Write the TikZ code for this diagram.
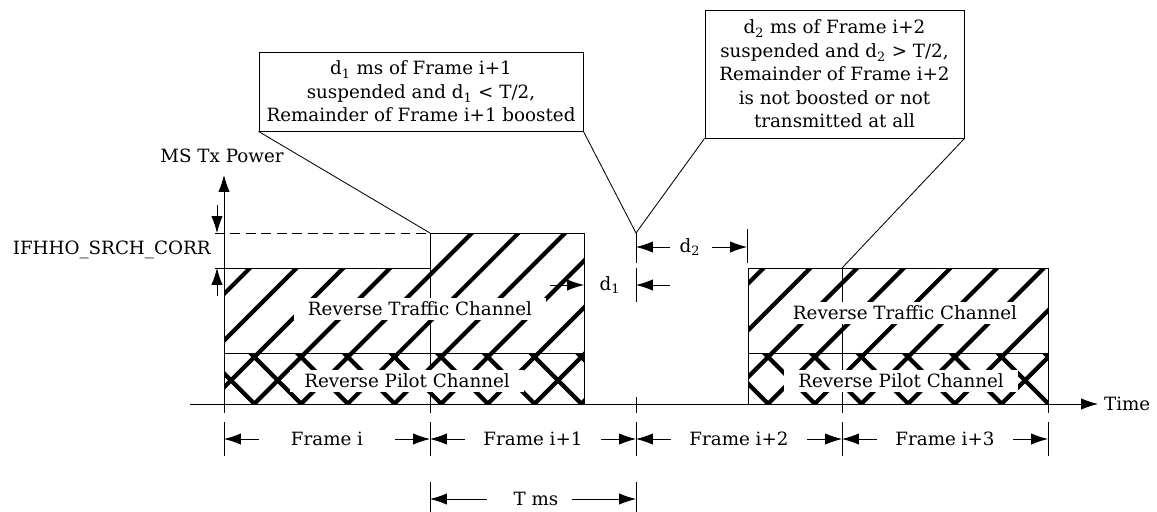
\documentclass[tikz,border=0pt]{standalone}
\usepackage{fontspec}
\setmainfont{DejaVu Serif}
\usetikzlibrary{arrows.meta, positioning}

\begin{document}
\begin{tikzpicture}[x=0.025cm, y=-0.025cm, >={Latex[length=12pt, width=8pt]},
                    line width=0.6pt, font=\fontsize{13}{16.7}\selectfont,
                    hatch/.style={line width=3pt},
                    chlabel/.style={fill=white, inner xsep=10pt, inner ysep=2.5pt},
                    callout/.style={draw, align=center, inner sep=0pt}]
    \useasboundingbox (0,0) rectangle (1157,512);

    % Hatching of traffic and pilot channels
    \begin{scope}
        \clip (224,404) -- (224,268) -- (430,268) -- (430,233) -- (584,233) -- (584,404) -- cycle
              (748,268) rectangle (1048,404);
        \foreach \k in {-2,...,21}
            \draw[hatch] ({518+46.7*\k-420},420) -- ({518+46.7*\k-180},180);
    \end{scope}
    \begin{scope}
        \clip (224,353) rectangle (584,404) (748,353) rectangle (1048,404);
        \foreach \k in {0,...,20}
            \draw[hatch] ({-196+46.7*\k+300},300) -- ({-196+46.7*\k+420},420);
    \end{scope}

    % Axes
    \coordinate (origin) at (224,413);
    \coordinate (ytop) at (224,175);
    \coordinate (xstart) at (190,404);
    \node[right, inner sep=4pt] (time) at (1098,404) {Time};
    \node (power) at (222,156) {MS Tx Power};
    \draw[->] (origin) -- (ytop);
    \draw[->] (xstart) -- (time.west);

    % Frame i and Frame i+1 (boosted)
    \coordinate (p1) at (430,233);
    \coordinate (b1) at (430,413);
    \draw (215,268) -- (430,268);
    \draw[dash pattern=on 7pt off 4pt] (215,233) -- (p1);
    \draw (p1) -- (584,233) -- (584,404);
    \draw (p1) -- (b1);
    \draw (224,353) -- (584,353);

    % Frame i+2 and Frame i+3
    \coordinate (p3) at (842,268);
    \coordinate (b3) at (842,413);
    \draw (748,404) -- (748,268) -- (1048,268) -- (1048,413);
    \draw (p3) -- (b3);
    \draw (748,353) -- (1048,353);

    % Channel labels
    \node[chlabel] (traffic1) at (420,309) {Reverse Traffic Channel};
    \node[chlabel] (pilot1) at (407,381) {Reverse Pilot Channel};
    \node[chlabel] (traffic2) at (905,313) {Reverse Traffic Channel};
    \node[chlabel] (pilot2) at (901,381) {Reverse Pilot Channel};

    % IFHHO_SRCH_CORR
    \node[left, inner sep=0pt] (corr) at (211,250) {IFHHO\_SRCH\_CORR};
    \draw[->] (217,205) -- (217,233);
    \draw[->] (217,296) -- (217,268);

    % d1 and d2
    \coordinate (p2) at (636,233);
    \draw (p2) -- (636,263);
    \draw (636,268) -- (636,302);
    \draw (747,229) -- (747,263);
    \draw (636,397) -- (636,413);
    \node (d1) at (610,285) {d\textsubscript{1}};
    \node (d2) at (690,247) {d\textsubscript{2}};
    \draw[->] (550,285) -- (584,285);
    \draw[->] (670,285) -- (636,285);
    \draw[->] (670,247) -- (636,247);
    \draw[->] (712,247) -- (747,247);

    % Callouts
    \node[callout, minimum width=8.1cm, minimum height=1.975cm] (note1) at (421,91.5)
        {d\textsubscript{1} ms of Frame i+1\\ suspended and d\textsubscript{1} < T/2,\\ Remainder of Frame i+1 boosted};
    \node[callout, minimum width=6.475cm, minimum height=3.2cm] (note2) at (834.5,74)
        {d\textsubscript{2} ms of Frame i+2\\ suspended and d\textsubscript{2} > T/2,\\ Remainder of Frame i+2\\ is not boosted or not\\ transmitted at all};
    \draw (note1.south west) -- (p1);
    \draw (note1.south east) -- (p2);
    \draw (note2.south west) -- (p2);
    \draw (note2.south east) -- (p3);

    % Frame durations
    \draw (224,422) -- (224,456);
    \draw (430,422) -- (430,456);
    \draw (636,422) -- (636,456);
    \draw (842,422) -- (842,456);
    \draw (1048,422) -- (1048,456);
    \node (frame0) at (327,439) {Frame i};
    \node (frame1) at (533,439) {Frame i+1};
    \node (frame2) at (739,439) {Frame i+2};
    \node (frame3) at (945,439) {Frame i+3};
    \draw[<-] (224,439) -- +(35,0);  \draw[<-] (430,439) -- +(-35,0);
    \draw[<-] (430,439) -- +(35,0);  \draw[<-] (636,439) -- +(-35,0);
    \draw[<-] (636,439) -- +(35,0);  \draw[<-] (842,439) -- +(-35,0);
    \draw[<-] (842,439) -- +(35,0);  \draw[<-] (1048,439) -- +(-35,0);

    % T ms
    \draw (430,482) -- (430,512);
    \draw (636,482) -- (636,512);
    \node (tms) at (536,499) {T ms};
    \draw[<-] (430,499) -- +(57,0);
    \draw[<-] (636,499) -- +(-64,0);

\end{tikzpicture}
\end{document}
